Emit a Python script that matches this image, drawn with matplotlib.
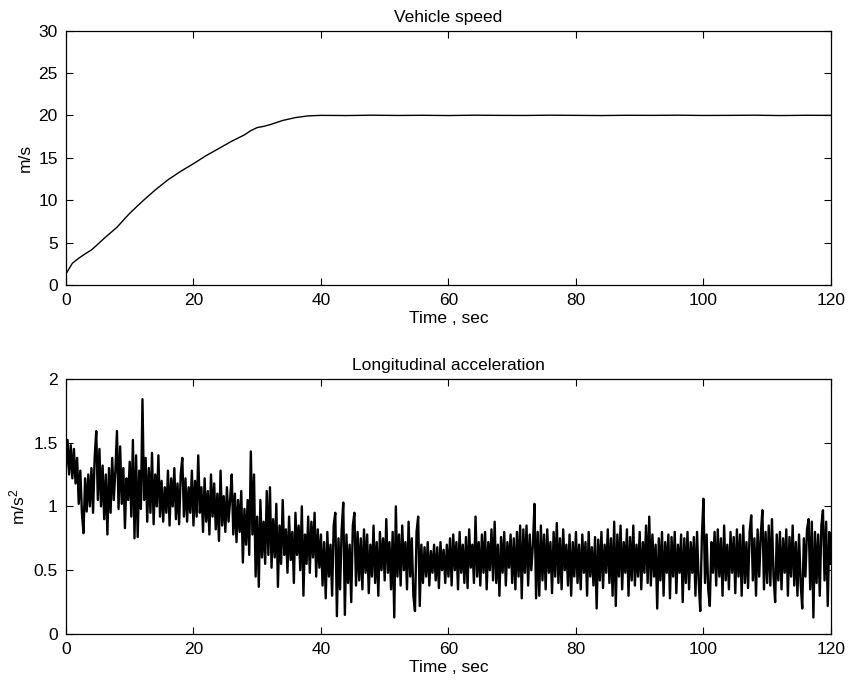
import numpy as np
import matplotlib
matplotlib.use("Agg")
import matplotlib.pyplot as plt

plt.rcParams['font.family'] = ['Liberation Sans', 'DejaVu Sans']
plt.rcParams['mathtext.fontset'] = 'custom'
plt.rcParams['mathtext.rm'] = 'Liberation Sans'
plt.rcParams['mathtext.it'] = 'Liberation Sans'

# vehicle speed
speed_t = [0, 1, 2, 3, 4, 5, 6, 8, 10, 12, 14, 16, 18, 20, 22, 24, 26, 28, 29, 30,
           31, 32, 34, 36, 38, 40, 44, 48, 52, 56, 60, 64, 68, 72, 76, 80, 84, 88,
           92, 96, 100, 104, 108, 112, 116, 120]
speed_v = [1.3, 2.55, 3.15, 3.66, 4.13, 4.8, 5.5, 6.8, 8.45, 9.87, 11.2, 12.4, 13.4,
           14.3, 15.26, 16.1, 16.95, 17.7, 18.2, 18.56, 18.7, 18.9, 19.4, 19.74, 19.94,
           20.0, 19.98, 20.02, 19.99, 20.01, 19.98, 20.02, 20.0, 19.99, 20.02, 20.0,
           19.98, 20.01, 20.0, 20.02, 19.99, 20.0, 20.02, 19.98, 20.01, 20.0]

# longitudinal acceleration, one value every 0.25 s
accel = [
    1.30, 1.52, 1.25, 1.48, 1.22, 1.45, 1.18, 1.38, 1.02, 1.28, 0.95, 0.79, 1.22, 0.96, 1.25, 1.00, 1.30, 0.95, 1.38, 1.59,
    1.05, 1.45, 1.00, 1.32, 0.90, 1.25, 0.78, 1.30, 0.95, 1.38, 1.05, 1.28, 1.59, 0.98, 1.47, 1.02, 1.30, 0.83, 1.22, 1.05,
    1.35, 0.92, 1.52, 0.75, 1.40, 0.76, 1.28, 0.98, 1.84, 1.05, 1.38, 0.88, 1.30, 0.95, 1.42, 0.86, 1.25, 1.00, 1.40, 0.92,
    1.20, 0.88, 1.15, 0.95, 1.28, 0.85, 1.22, 1.00, 1.30, 0.90, 1.18, 0.86, 1.25, 1.38, 0.92, 1.22, 0.88, 1.15, 0.95, 1.28,
    0.85, 1.20, 0.92, 1.40, 0.95, 1.15, 0.80, 1.22, 0.88, 1.12, 0.78, 1.25, 0.92, 1.18, 0.82, 1.10, 0.73, 1.28, 0.85, 1.08,
    0.80, 1.15, 0.88, 1.05, 1.25, 0.78, 1.10, 0.72, 1.05, 0.80, 1.12, 0.56, 0.98, 0.70, 1.05, 0.62, 1.43, 0.78, 1.25, 0.45,
    0.92, 0.37, 1.05, 0.60, 0.88, 0.55, 1.12, 0.62, 1.15, 0.52, 0.90, 0.60, 1.02, 0.37, 0.85, 0.55, 1.05, 0.62, 0.82, 0.48,
    0.92, 0.58, 0.80, 0.40, 0.95, 0.62, 0.85, 0.50, 1.00, 0.30, 0.78, 0.55, 0.92, 0.48, 0.88, 0.60, 0.95, 0.45, 0.82, 0.52,
    0.78, 0.38, 0.72, 0.28, 0.80, 0.45, 0.70, 0.30, 0.85, 0.95, 0.14, 0.75, 0.35, 0.82, 1.03, 0.15, 0.78, 0.40, 0.70, 0.25,
    0.85, 0.95, 0.38, 0.80, 0.42, 0.75, 0.35, 0.82, 0.48, 0.78, 0.32, 0.70, 0.45, 0.85, 0.40, 0.72, 0.30, 0.80, 0.50, 0.75,
    0.42, 0.90, 0.48, 0.72, 0.35, 0.80, 0.13, 1.00, 0.45, 0.78, 0.38, 0.85, 0.50, 0.72, 0.35, 0.88, 0.45, 0.75, 0.30, 0.18,
    0.80, 0.92, 0.22, 0.70, 0.40, 0.68, 0.45, 0.72, 0.38, 0.65, 0.48, 0.70, 0.42, 0.68, 0.36, 0.72, 0.50, 0.66, 0.40, 0.70,
    0.45, 0.75, 0.38, 0.78, 0.50, 0.72, 0.35, 0.80, 0.48, 0.70, 0.40, 0.76, 0.36, 0.82, 0.52, 0.70, 0.40, 0.92, 0.45, 0.72,
    0.38, 0.78, 0.48, 0.80, 0.35, 0.72, 0.50, 0.82, 0.42, 0.88, 0.40, 0.70, 0.30, 0.76, 0.48, 0.80, 0.38, 0.72, 0.52, 0.78,
    0.40, 0.75, 0.35, 0.80, 0.45, 0.85, 0.28, 0.82, 0.48, 0.85, 0.38, 0.78, 0.50, 0.70, 1.02, 0.28, 0.80, 0.30, 0.85, 0.42,
    0.78, 0.35, 0.82, 0.48, 0.72, 0.32, 0.80, 0.45, 0.87, 0.40, 0.75, 0.35, 0.82, 0.50, 0.70, 0.38, 0.78, 0.30, 0.72, 0.45,
    0.80, 0.40, 0.70, 0.35, 0.78, 0.48, 0.72, 0.30, 0.80, 0.45, 0.68, 0.38, 0.76, 0.20, 0.74, 0.42, 0.80, 0.36, 0.70, 0.48,
    0.82, 0.40, 0.75, 0.30, 0.88, 0.22, 0.78, 0.45, 0.85, 0.35, 0.72, 0.48, 0.82, 0.30, 0.76, 0.42, 0.85, 0.38, 0.70, 0.45,
    0.80, 0.35, 0.72, 0.48, 0.85, 0.40, 0.92, 0.38, 0.78, 0.45, 0.70, 0.20, 0.75, 0.42, 0.80, 0.30, 0.72, 0.48, 0.78, 0.28,
    0.76, 0.45, 0.80, 0.32, 0.70, 0.48, 0.78, 0.25, 0.75, 0.40, 0.80, 0.35, 0.72, 0.48, 0.76, 0.30, 0.80, 0.42, 0.18, 0.75,
    1.06, 0.40, 0.78, 0.35, 0.22, 0.72, 0.48, 0.80, 0.38, 0.82, 0.45, 0.75, 0.30, 0.85, 0.42, 0.70, 0.35, 0.80, 0.48, 0.76,
    0.32, 0.82, 0.45, 0.78, 0.30, 0.85, 0.40, 0.72, 0.36, 0.80, 0.93, 0.42, 0.75, 0.30, 0.82, 0.45, 0.78, 0.97, 0.35, 0.80,
    0.40, 0.85, 0.38, 0.90, 0.45, 0.25, 0.78, 0.42, 0.80, 0.35, 0.75, 0.48, 0.82, 0.30, 0.76, 0.45, 0.85, 0.38, 0.72, 0.30,
    0.78, 0.40, 0.20, 0.75, 0.45, 0.82, 0.90, 0.35, 0.88, 0.13, 0.80, 0.40, 0.78, 0.30, 0.85, 0.97, 0.42, 0.88, 0.22, 0.80,
    0.55,
]
accel_t = np.linspace(0, 120, len(accel))

FS = 12.5


def style(ax):
    ax.set_xlim(0, 120)
    ax.set_xticks([0, 20, 40, 60, 80, 100, 120])
    ax.tick_params(direction='in', top=True, right=True, length=5, width=0.8,
                   labelsize=FS, pad=6)
    for s in ax.spines.values():
        s.set_linewidth(0.9)
    ax.set_xlabel('Time , sec', fontsize=FS, labelpad=2)


fig = plt.figure(figsize=(8.49, 6.8), dpi=100)
ax1 = fig.add_axes([0.0777, 0.581, 0.901, 0.374])
ax2 = fig.add_axes([0.0777, 0.0676, 0.901, 0.3754])

ax1.plot(speed_t, speed_v, color='black', linewidth=1.0)
style(ax1)
ax1.set_ylim(0, 30)
ax1.set_yticks([0, 5, 10, 15, 20, 25, 30])
ax1.set_ylabel('m/s', fontsize=FS, labelpad=4)
ax1.set_title('Vehicle speed', fontsize=FS, pad=6)

ax2.plot(accel_t, accel, color='black', linewidth=1.7)
style(ax2)
ax2.set_ylim(0, 2)
ax2.set_yticks([0, 0.5, 1, 1.5, 2])
ax2.set_yticklabels(['0', '0.5', '1', '1.5', '2'])
ax2.set_ylabel('m/s$^2$', fontsize=FS, labelpad=4)
ax2.set_title('Longitudinal acceleration', fontsize=FS, pad=6)

fig.savefig('out.png', dpi=100)
